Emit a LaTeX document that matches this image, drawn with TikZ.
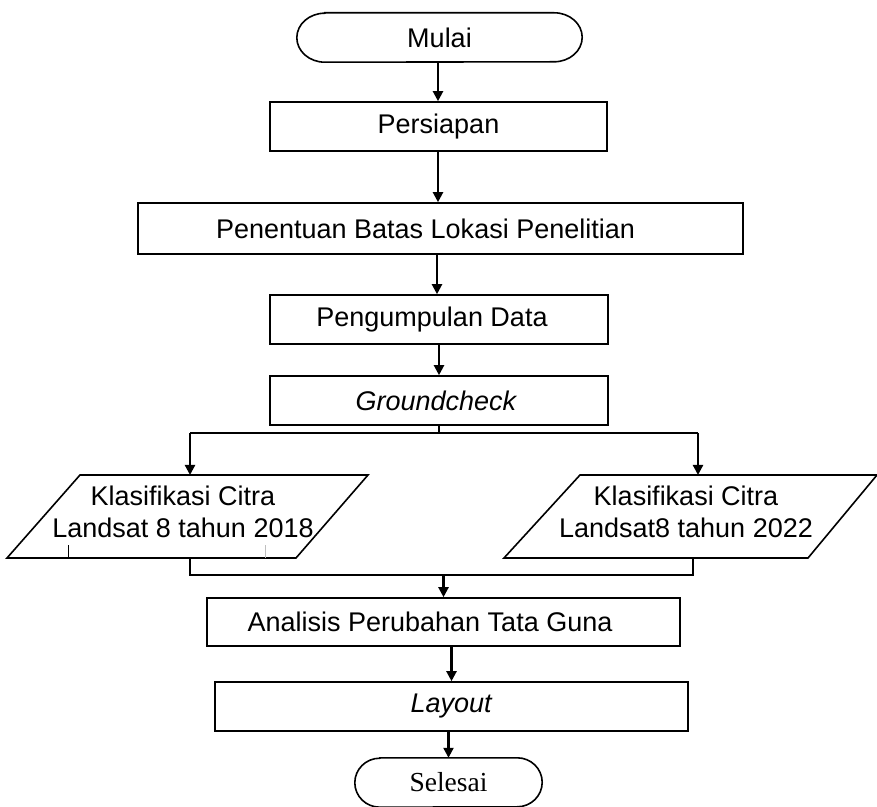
\documentclass[tikz,border=0pt]{standalone}
\usepackage{fontspec}
\setmainfont{Liberation Sans}
\newfontfamily\serifface{Liberation Serif}
\usetikzlibrary{arrows.meta}
\begin{document}
\begin{tikzpicture}[x=1pt,y=1pt,
  txt/.style={font=\fontsize{27}{32}\selectfont},
  box/.style={txt, draw, line width=1.6pt, minimum height=49pt, inner sep=0pt},
  termtext/.style={minimum height=49pt, inner sep=0pt},
  ptext/.style={txt, align=center, inner sep=0pt},
  outline/.style={line width=1.6pt},
  arr/.style={line width=2.2pt, -{Triangle[length=10pt,width=10pt]}},
  link/.style={line width=1.8pt},
]
\useasboundingbox (0,0) rectangle (877,806);

% terminator: Mulai
\node[termtext, txt, minimum width=285pt] (mulai) at (439.5,768.5) {Mulai};
\draw[outline] ([xshift=28pt]mulai.north west) -- ([xshift=-28pt]mulai.north east)
  arc[start angle=90,end angle=-90,x radius=28pt,y radius=24.5pt]
  -- ([xshift=28pt]mulai.south west)
  arc[start angle=270,end angle=90,x radius=28pt,y radius=24.5pt] -- cycle;

% process boxes
\node[box, minimum width=337pt] (persiapan) at (438.5,679.5) {Persiapan};
\node[box, minimum width=605pt, minimum height=51pt] (penentuan) at (440.5,577.5) {Penentuan Batas Lokasi Penelitian\hspace*{30pt}};
\node[box, minimum width=338pt] (pengumpulan) at (439,486.5) {Pengumpulan Data\hspace*{14pt}};
\node[box, minimum width=338pt] (ground) at (439,405.5) {\textit{Groundcheck}\hspace*{5pt}};

% parallelograms
\draw[outline] (80,331) -- (368,331) -- (296,248) -- (7,248) -- cycle;
\node[ptext] (k18) at (183,294) {Klasifikasi Citra\\Landsat 8 tahun 2018};
\draw[outline] (580,331) -- (877,331) -- (808,248) -- (504,248) -- cycle;
\node[ptext] (k22) at (686,294) {Klasifikasi Citra\\Landsat8 tahun 2022};
% small tick artefacts on the left parallelogram
\draw[line width=0.8pt] (68,248) -- (68,261);
\draw[line width=0.6pt, black!25] (265,248) -- (265,261);

\coordinate (p18top) at (190,331);
\coordinate (p22top) at (698,331);
\coordinate (p18bot) at (190,248);
\coordinate (p22bot) at (693,248);

\node[box, minimum width=473pt, minimum height=48pt] (analisis) at (443.5,184) {Analisis Perubahan Tata Guna\hspace*{27pt}};
\node[box, minimum width=473pt] (layout) at (451.5,99.5) {\textit{Layout}};

% terminator: Selesai
\node[termtext, font=\serifface\fontsize{27.5}{32}\selectfont, minimum width=187pt] (selesai) at (448.5,23.5) {Selesai};
\draw[outline] ([xshift=25pt]selesai.north west) -- ([xshift=-25pt]selesai.north east)
  arc[start angle=90,end angle=-90,x radius=25pt,y radius=24.5pt]
  -- ([xshift=25pt]selesai.south west)
  arc[start angle=270,end angle=90,x radius=25pt,y radius=24.5pt] -- cycle;

% connectors
\draw[arr] (mulai.south -| 438,0) -- (persiapan.north -| 438,0);
\draw[arr] (persiapan.south -| 438,0) -- (penentuan.north -| 438,0);
\draw[arr] (penentuan.south -| 437,0) -- (pengumpulan.north -| 437,0);
\draw[arr] (pengumpulan.south) -- (ground.north);

\coordinate (bl) at (190,373);
\coordinate (br) at (698,373);
\draw[link] (ground.south) -- (ground.south |- bl);
\draw[link] (bl) -- (br);
\draw[arr] (bl) -- (p18top);
\draw[arr] (br) -- (p22top);

\coordinate (ml) at (190,231);
\coordinate (mr) at (693,231);
\draw[link] (p18bot) -- (ml) -- (mr) -- (p22bot);
\draw[arr] (analisis.north |- ml) -- (analisis.north);
\draw[arr] (analisis.south -| layout.north) -- (layout.north);
\draw[arr] (layout.south -| selesai.north) -- (selesai.north);
\end{tikzpicture}
\end{document}
